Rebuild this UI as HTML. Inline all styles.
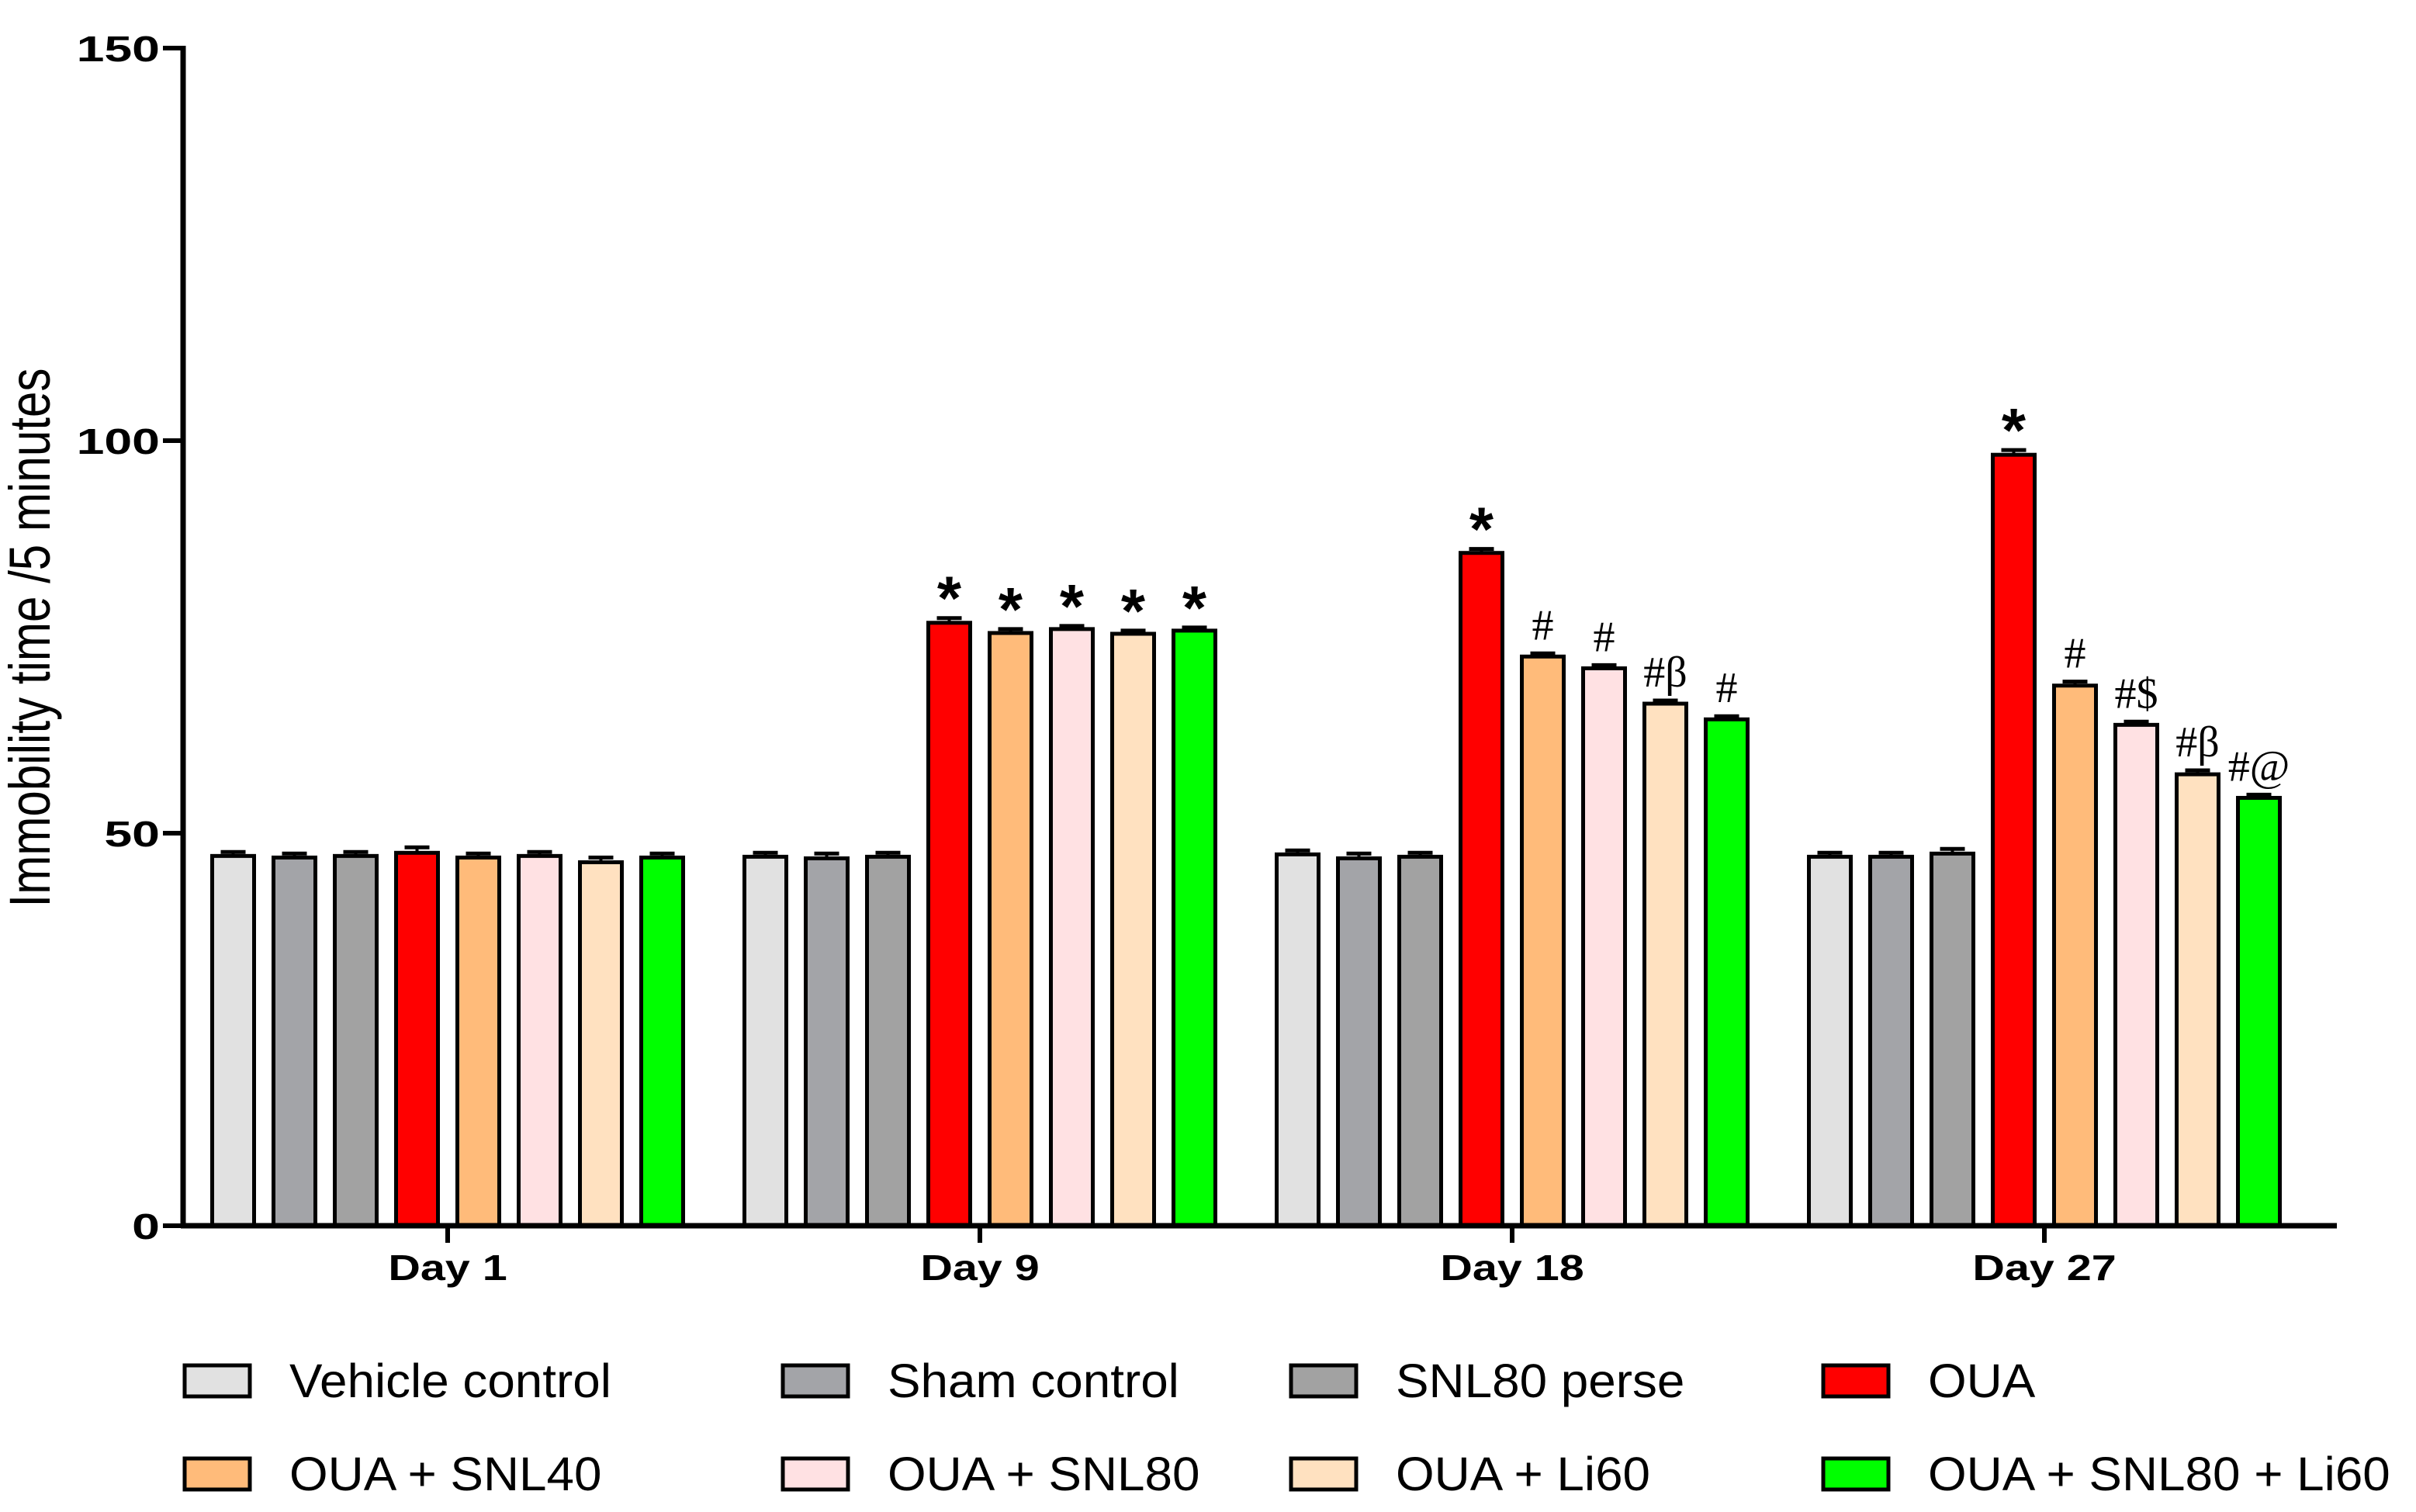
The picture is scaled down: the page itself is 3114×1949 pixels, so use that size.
<!DOCTYPE html>
<html><head><meta charset="utf-8"><style>
html,body{margin:0;padding:0;background:#fff;}
svg{display:block;}
</style></head><body>
<svg id="chart" width="3114" height="1949" viewBox="0 0 3114 1949" xmlns="http://www.w3.org/2000/svg">
<g id="plot"></g>
<g id="legend"></g>
</svg>
<script>
const days = ["Day 1","Day 9","Day 18","Day 27"];
const groups = ["Vehicle control","Sham control","SNL80 perse","OUA","OUA + SNL40","OUA + SNL80","OUA + Li60","OUA + SNL80 + Li60"];
const colors = ["#e1e1e1","#a3a4a8","#a2a2a2","#ff0000","#ffbb7a","#ffe1e3","#ffe1c0","#00ff00"];
const vals = [
  [47.1,46.9,47.1,47.5,46.9,47.1,46.3,46.9],
  [47.0,46.8,47.0,76.8,75.5,76.0,75.4,75.8],
  [47.3,46.8,47.0,85.7,72.5,71.0,66.5,64.5],
  [47.0,47.0,47.4,98.2,68.8,63.8,57.5,54.5]
];
const errs = [
  [0.5,0.5,0.5,0.7,0.5,0.5,0.6,0.5],
  [0.5,0.6,0.5,0.6,0.5,0.4,0.4,0.4],
  [0.5,0.6,0.5,0.5,0.4,0.4,0.4,0.4],
  [0.5,0.5,0.6,0.6,0.5,0.4,0.5,0.4]
];
const marks = [
  ["","","","","","","",""],
  ["","","","*","*","*","*","*"],
  ["","","","*","#","#","#β","#"],
  ["","","","*","#","#$","#β","#@"]
];
const yTicks = [0,50,100,150];

const NS="http://www.w3.org/2000/svg";
const plot=document.getElementById('plot');
const x0=236, y0=1580, pxPer=10.12;
const yS=v=>y0-v*pxPer;
const dayC=d=>577+d*686;
const barC=(d,i)=>dayC(d)+(i-3.5)*79;
const bw=54;
function mk(tag,attrs,parent){const e=document.createElementNS(NS,tag);for(const k in attrs)e.setAttribute(k,attrs[k]);(parent||plot).appendChild(e);return e;}

days.forEach((d,di)=>{
  groups.forEach((g,gi)=>{
    const v=vals[di][gi], e=errs[di][gi], cx=barC(di,gi);
    const top=yS(v+e);
    const l1=mk('line',{x1:cx,x2:cx,y1:yS(v),y2:top,stroke:'#000','stroke-width':4});
    
    
    const l2=mk('line',{x1:cx-16,x2:cx+16,y1:top,y2:top,stroke:'#000','stroke-width':5});
    
    
    const r=mk('rect',{x:cx-bw/2,y:yS(v),width:bw,height:v*pxPer,fill:colors[gi],stroke:'#000','stroke-width':5});
    
    
    const m=marks[di][gi];
    if(m){
      const star=m==='*';
      const t=mk('text',{x:cx,y:star?top+2:top-18,'text-anchor':'middle','font-family':star?'Liberation Sans, sans-serif':'Liberation Serif, serif','font-size':star?80:56,'font-weight':star?'bold':'normal'});
      t.textContent=m;
      
      
    }
  });
  const tk=mk('line',{x1:dayC(di),x2:dayC(di),y1:y0,y2:y0+22,stroke:'#000','stroke-width':6});
  
  
  const lb=mk('text',{x:0,y:0,'text-anchor':'middle','font-family':'Liberation Sans, sans-serif','font-size':46,'font-weight':'bold',transform:`translate(${dayC(di)},1650) scale(1.25,1)`});
  lb.textContent=d;
  
  
});
yTicks.forEach(t=>{
  const tx=mk('text',{x:0,y:0,'text-anchor':'end','font-family':'Liberation Sans, sans-serif','font-size':46,'font-weight':'bold',transform:`translate(${x0-30},${yS(t)+17}) scale(1.4,1)`});
  tx.textContent=t;
  
  
  const l=mk('line',{x1:x0-26,x2:x0,y1:yS(t),y2:yS(t),stroke:'#000','stroke-width':6});
  
  
});
const ya=mk('line',{x1:x0,x2:x0,y1:yS(150)-3,y2:y0+3,stroke:'#000','stroke-width':7});


const xa=mk('line',{x1:x0-3,x2:3012,y1:y0,y2:y0,stroke:'#000','stroke-width':7});


const yt=mk('text',{x:0,y:0,'text-anchor':'middle','font-family':'Liberation Sans, sans-serif','font-size':62,transform:'translate(64,822) rotate(-90) scale(0.97,1.2)'});
yt.textContent='Immobility time /5 minutes';



const leg=document.getElementById('legend');
const colX=[238,1009,1664,2350], rowY=[1760,1880];
groups.forEach((g,i)=>{
  const cx=colX[i%4], ry=rowY[Math.floor(i/4)];
  const r=mk('rect',{x:cx,y:ry,width:84,height:40,fill:colors[i],stroke:'#000','stroke-width':5},leg);
  
  
  const t=mk('text',{x:0,y:0,'font-family':'Liberation Sans, sans-serif','font-size':58,transform:`translate(${cx+135},${ry+41}) scale(1.1,1.05)`},leg);
  t.textContent=g;
  
  
});
</script>
</body></html>
